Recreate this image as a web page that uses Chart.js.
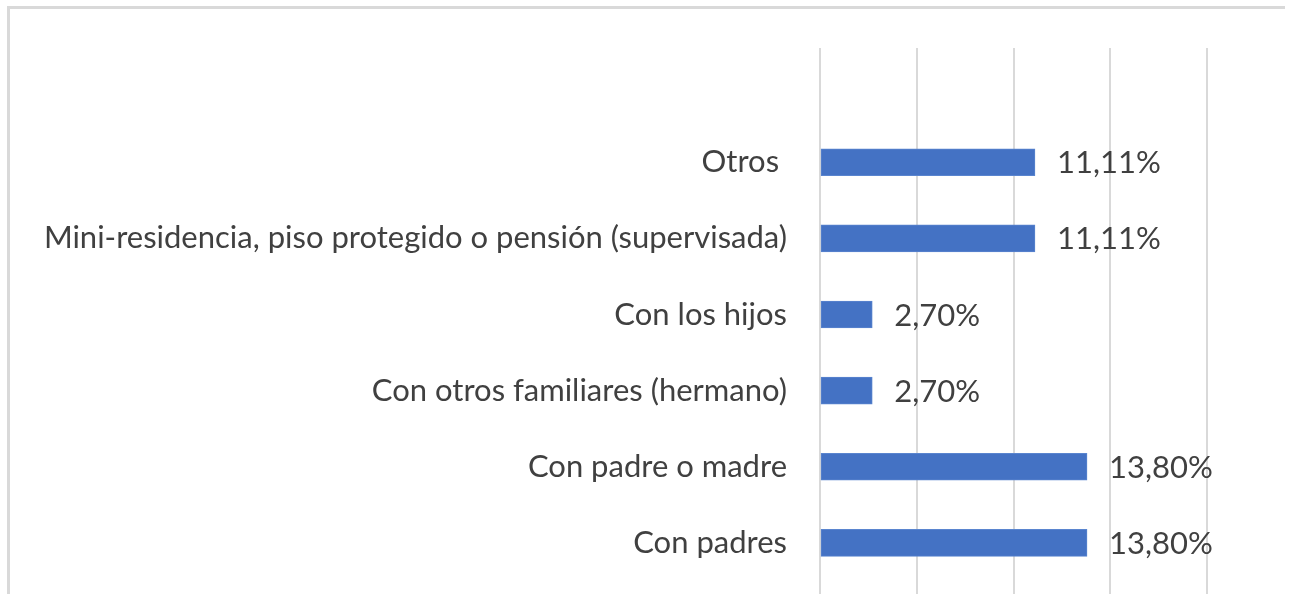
<!DOCTYPE html>
<html>
<head>
<meta charset="utf-8">
<script src="https://cdn.jsdelivr.net/npm/chart.js@4.4.0/dist/chart.umd.min.js"></script>
<style>
  html, body { margin: 0; padding: 0; background: #ffffff; }
  #wrap { position: relative; width: 1291px; height: 594px; }
</style>
</head>
<body>
<div id="wrap"><canvas id="c" width="1291" height="594"></canvas></div>
<script>
const categories = [
  "",
  "Otros ",
  "Mini-residencia, piso protegido o pensión (supervisada)",
  "Con los hijos",
  "Con otros familiares (hermano)",
  "Con padre o madre",
  "Con padres"
];
const values = [null, 11.11, 11.11, 2.70, 2.70, 13.80, 13.80];
const xTicks = [0, 5, 10, 15, 20];

const FONT = "Lato, 'Open Sans', sans-serif";
const FONT_SIZE = 31;
const TEXT_COLOR = "#404040";

function fmt(v) {
  return v.toFixed(2).replace(".", ",") + "%";
}

const framePlugin = {
  id: "frame",
  beforeDraw(chart) {
    const ctx = chart.ctx;
    ctx.save();
    ctx.fillStyle = "#ffffff";
    ctx.fillRect(0, 0, chart.width, chart.height);
    ctx.fillStyle = "#d9d9d9";
    ctx.fillRect(7, 6, 1278, 3);
    ctx.fillRect(7, 6, 3, 588);
    ctx.restore();
  }
};

const valueLabels = {
  id: "valueLabels",
  afterDatasetsDraw(chart) {
    const ctx = chart.ctx;
    const meta = chart.getDatasetMeta(0);
    ctx.save();
    ctx.font = FONT_SIZE + "px " + FONT;
    ctx.fillStyle = TEXT_COLOR;
    ctx.textAlign = "left";
    ctx.textBaseline = "middle";
    meta.data.forEach((bar, i) => {
      const v = chart.data.datasets[0].data[i];
      if (v === null || v === undefined) return;
      ctx.fillText(fmt(v), bar.x + 22, bar.y + 1);
    });
    ctx.restore();
  }
};

new Chart(document.getElementById("c"), {
  type: "bar",
  data: {
    labels: categories,
    datasets: [{
      data: values,
      backgroundColor: "#4472C4",
      borderColor: "#5a85cf",
      borderWidth: 1,
      borderSkipped: false,
      barThickness: 27
    }]
  },
  options: {
    indexAxis: "y",
    responsive: false,
    animation: false,
    events: [],
    layout: { padding: { left: 0, right: 84, top: 48, bottom: 0 } },
    plugins: {
      legend: { display: false },
      tooltip: { enabled: false },
      title: { display: false }
    },
    scales: {
      x: {
        type: "linear",
        min: 0,
        max: 20,
        afterBuildTicks(scale) {
          scale.ticks = xTicks.map(v => ({ value: v }));
        },
        afterFit(scale) {
          scale.height = 13;
          scale.paddingLeft = 0;
          scale.paddingRight = 0;
        },
        ticks: { display: false },
        border: { display: false },
        grid: {
          color: "#d9d9d9",
          lineWidth: 2,
          drawTicks: true,
          tickLength: 13,
          tickColor: "#d9d9d9",
          tickWidth: 2
        }
      },
      y: {
        type: "category",
        afterFit(scale) {
          scale.width = 820;
          scale.paddingTop = 0;
          scale.paddingBottom = 0;
        },
        border: { display: false },
        grid: { display: false, drawTicks: false },
        ticks: {
          padding: 33,
          color: TEXT_COLOR,
          font: { family: FONT, size: FONT_SIZE },
          autoSkip: false
        }
      }
    }
  },
  plugins: [framePlugin, valueLabels]
});
</script>
</body>
</html>
